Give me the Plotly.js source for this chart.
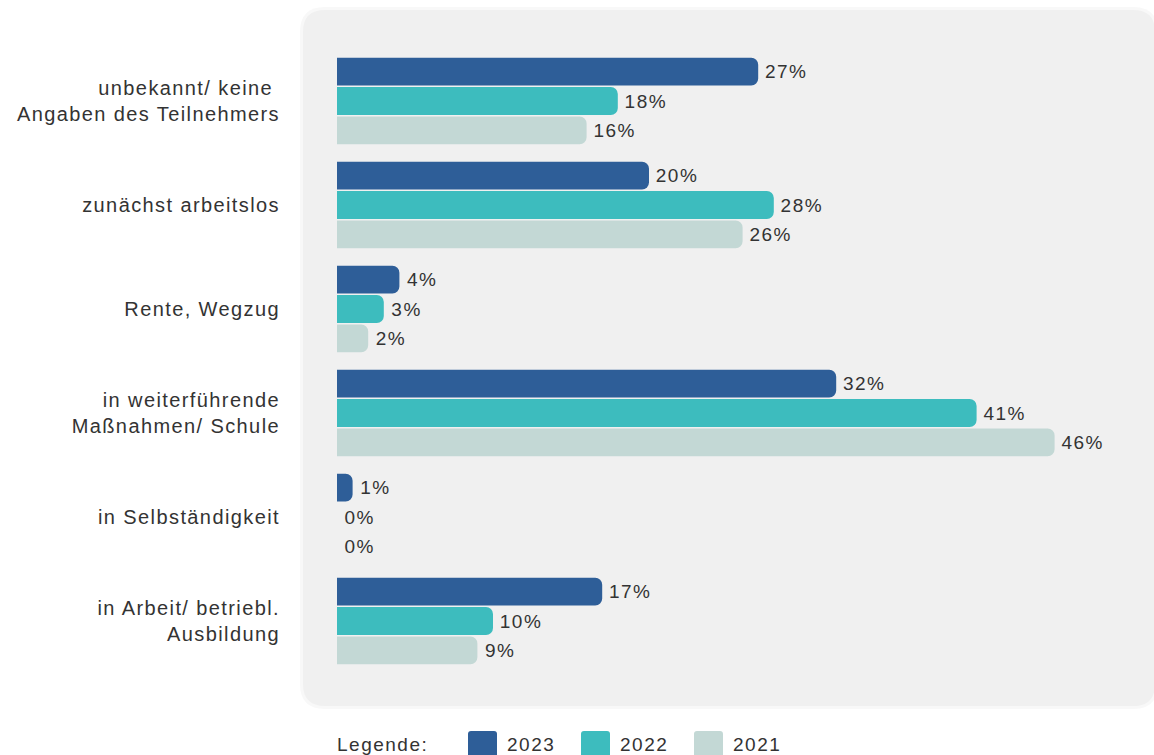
<!DOCTYPE html>
<html>
<head>
<meta charset="utf-8">
<script src="https://cdn.plot.ly/plotly-3.0.1.min.js"></script>
<style>
  html, body { margin: 0; padding: 0; background: #ffffff; }
  #chart { width: 1154px; height: 755px; }
  .main-svg text { letter-spacing: 1.5px; }
  .main-svg .ytick text { letter-spacing: 1.4px; }
</style>
</head>
<body>
<div id="chart"></div>
<script>
// Categories (top to bottom) and yearly shares in percent
const categories = [
  'unbekannt/ keine\u00a0<br>Angaben des Teilnehmers',
  'zunächst arbeitslos',
  'Rente, Wegzug',
  'in weiterführende<br>Maßnahmen/ Schule',
  'in Selbständigkeit',
  'in Arbeit/ betriebl.<br>Ausbildung'
];
const years = ['2023', '2022', '2021'];
const values2023 = [27, 20, 4, 32, 1, 17];
const values2022 = [18, 28, 3, 41, 0, 10];
const values2021 = [16, 26, 2, 46, 0, 9];
const seriesValues = [values2023, values2022, values2021];
const seriesColors = ['#2E5E98', '#3DBCBE', '#C3D8D5'];

const W = 1154, H = 755;
const M = { l: 337, r: 37, t: 49, b: 82 };
const plotW = W - M.l - M.r, plotH = H - M.t - M.b;
const fontFamily = '"Liberation Sans", Arial, sans-serif';
const textColor = '#333333';

// pixel -> paper coordinate helpers for decorative shapes
const px = x => (x - M.l) / plotW;
const py = y => (H - M.b - y) / plotH;
function pt(x, y) { return px(x).toFixed(5) + ',' + py(y).toFixed(5); }
function roundRect(x0, y0, x1, y1, r, rb) {
  const r2 = rb === undefined ? r : rb;
  return 'M' + pt(x0 + r, y0) +
    ' L' + pt(x1 - r, y0) + ' Q' + pt(x1, y0) + ' ' + pt(x1, y0 + r) +
    ' L' + pt(x1, y1 - r2) + ' Q' + pt(x1, y1) + ' ' + pt(x1 - r2, y1) +
    ' L' + pt(x0 + r2, y1) + ' Q' + pt(x0, y1) + ' ' + pt(x0, y1 - r2) +
    ' L' + pt(x0, y0 + r) + ' Q' + pt(x0, y0) + ' ' + pt(x0 + r, y0) + ' Z';
}

const traces = years.map((yr, i) => ({
  type: 'bar',
  orientation: 'h',
  name: yr,
  y: categories,
  x: seriesValues[i],
  marker: { color: seriesColors[i], line: { width: 0 } },
  text: seriesValues[i].map(v => '\u00a0' + v + '%'),
  texttemplate: '%{text}',
  textposition: 'outside',
  constraintext: 'none',
  cliponaxis: false,
  textfont: { family: fontFamily, size: 19, color: textColor },
  hoverinfo: 'skip',
  showlegend: false
}));

// Panel behind the bars
const shapes = [
  { type: 'path', xref: 'paper', yref: 'paper', layer: 'below',
    path: roundRect(300, 7, 1158, 709, 25), fillcolor: '#f8f8f8', line: { width: 0 } },
  { type: 'path', xref: 'paper', yref: 'paper', layer: 'below',
    path: roundRect(303, 10, 1155, 706, 22), fillcolor: '#f0f0f0', line: { width: 0 } }
];

// Legend row: label, colour swatches and year names
const annotations = [{
  xref: 'paper', yref: 'paper', x: px(341), y: py(744),
  xanchor: 'left', yanchor: 'middle', showarrow: false,
  text: 'Legende:', font: { family: fontFamily, size: 19, color: textColor }
}];
years.forEach((yr, i) => {
  const sx = 468 + i * 113;
  shapes.push({ type: 'path', xref: 'paper', yref: 'paper', layer: 'above',
    path: roundRect(sx, 731, sx + 29, 762, 3, 0),
    fillcolor: seriesColors[i], line: { width: 0 } });
  annotations.push({
    xref: 'paper', yref: 'paper', x: px(sx + 40), y: py(744),
    xanchor: 'left', yanchor: 'middle', showarrow: false,
    text: yr, font: { family: fontFamily, size: 19, color: textColor }
  });
});

const layout = {
  width: W, height: H,
  margin: M,
  paper_bgcolor: '#ffffff',
  plot_bgcolor: 'rgba(0,0,0,0)',
  barmode: 'group',
  bargap: 0.154,
  bargroupgap: 0.05,
  barcornerradius: 7,
  showlegend: false,
  font: { family: fontFamily, size: 19, color: textColor },
  xaxis: { range: [0, 50], visible: false, fixedrange: true },
  yaxis: {
    type: 'category', autorange: 'reversed',
    showgrid: false, zeroline: false, showline: false, ticks: '',
    ticklabelstandoff: 56,
    tickfont: { family: fontFamily, size: 20, color: textColor },
    fixedrange: true
  },
  shapes: shapes,
  annotations: annotations
};

Plotly.newPlot('chart', traces, layout, { displayModeBar: false, staticPlot: true });
</script>
</body>
</html>
